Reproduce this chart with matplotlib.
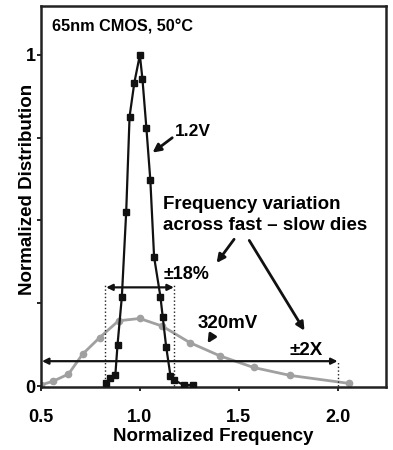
import matplotlib
matplotlib.use("Agg")
import matplotlib.pyplot as plt

plt.rcParams['font.family'] = ['Liberation Sans', 'DejaVu Sans']
plt.rcParams['font.weight'] = 'bold'

# 1.2V curve (black squares)
x_12v = [0.83, 0.85, 0.876, 0.887, 0.909, 0.931, 0.948, 0.972, 1.00, 1.013, 1.033,
         1.053, 1.072, 1.104, 1.116, 1.133, 1.155, 1.172, 1.222, 1.27]
y_12v = [0.008, 0.023, 0.033, 0.124, 0.270, 0.527, 0.814, 0.916, 1.00, 0.928, 0.780,
         0.622, 0.39, 0.270, 0.207, 0.119, 0.030, 0.018, 0.003, 0.003]

# 320mV curve (gray circles)
x_320 = [0.50, 0.563, 0.639, 0.71, 0.796, 0.892, 0.999, 1.113, 1.253, 1.405, 1.575, 1.76, 2.057]
y_320 = [0.003, 0.015, 0.036, 0.096, 0.146, 0.197, 0.204, 0.181, 0.131, 0.091, 0.056, 0.032, 0.008]

x_ticks = [0.5, 1.0, 1.5, 2.0]
x_ticklabels = ["0.5", "1.0", "1.5", "2.0"]
y_ticks = [0, 0.25, 0.5, 0.75, 1.0]
y_ticklabels = ["0", "", "", "", "1"]

fig = plt.figure(figsize=(3.93, 4.5), dpi=100)
W, H = 393, 450
ax = fig.add_axes([41 / W, 1 - 387 / H, (386 - 41) / W, (387 - 6) / H])

ax.plot(x_320, y_320, color='#a0a0a0', lw=2.0, marker='o', ms=4.5, mfc='#a0a0a0', mec='#a0a0a0', zorder=2)
ax.plot(x_12v, y_12v, color='#111111', lw=1.6, marker='s', ms=4.5, mfc='#111111', mec='#111111', zorder=3)

ax.set_xlim(0.5, 2.245)
ax.set_ylim(-0.003, 1.148)
ax.set_xticks(x_ticks)
ax.set_xticklabels(x_ticklabels, fontsize=13, fontweight='bold')
ax.set_yticks(y_ticks)
ax.set_yticklabels(y_ticklabels, fontsize=13, fontweight='bold')
ax.tick_params(direction='out', length=3, width=1.2, pad=1)
ax.tick_params(axis='x', pad=13)
for s in ax.spines.values():
    s.set_linewidth(1.8)
    s.set_color('#222222')

ax.set_xlabel("Normalized Frequency", fontsize=13.5, fontweight='bold', labelpad=1)
fig.text(28 / W, 1 - 189 / H, "Normalized Distribution", fontsize=13.5, fontweight='bold',
         rotation=90, ha='center', va='center')

ax.text(0.555, 1.085, "65nm CMOS, 50\u00b0C", fontsize=11.7, fontweight='bold', va='center', ha='left')

ek = dict(color='#111111', lw=2, mutation_scale=12)

# 1.2V label
ax.text(1.175, 0.77, "1.2V", fontsize=12.5, fontweight='bold', va='center', ha='left')
ax.annotate("", xy=(1.053, 0.70), xytext=(1.175, 0.755), arrowprops=dict(arrowstyle='-|>', **ek))

ax.text(1.117, 0.517, "Frequency variation\nacross fast \u2013 slow dies", fontsize=13.5,
        fontweight='bold', va='center', ha='left', linespacing=1.28)
ax.annotate("", xy=(1.38, 0.365), xytext=(1.485, 0.45), arrowprops=dict(arrowstyle='-|>', **ek))
ax.annotate("", xy=(1.84, 0.16), xytext=(1.546, 0.447), arrowprops=dict(arrowstyle='-|>', **ek))

# +-18% bracket
ax.annotate("", xy=(0.83, 0.298), xytext=(1.172, 0.298),
            arrowprops=dict(arrowstyle='<|-|>', color='#111111', lw=1.6, mutation_scale=9,
                            shrinkA=0, shrinkB=0))
ax.plot([0.825, 0.825], [0, 0.31], color='#222222', lw=1, ls=':')
ax.plot([1.175, 1.175], [0, 0.31], color='#222222', lw=1, ls=':')
ax.text(1.118, 0.338, "\u00b118%", fontsize=13, fontweight='bold', va='center', ha='left')

# 320mV label
ax.text(1.29, 0.19, "320mV", fontsize=13.5, fontweight='bold', va='center', ha='left')
ax.annotate("", xy=(1.335, 0.122), xytext=(1.375, 0.16), arrowprops=dict(arrowstyle='-|>', **ek))

# +-2X bracket
ax.annotate("", xy=(0.505, 0.075), xytext=(2.0, 0.075),
            arrowprops=dict(arrowstyle='<|-|>', color='#111111', lw=1.6, mutation_scale=9,
                            shrinkA=0, shrinkB=0))
ax.plot([2.0, 2.0], [0, 0.075], color='#222222', lw=1, ls=':')
ax.text(1.755, 0.108, "\u00b12X", fontsize=13.5, fontweight='bold', va='center', ha='left')

fig.savefig("out.png", dpi=100)
